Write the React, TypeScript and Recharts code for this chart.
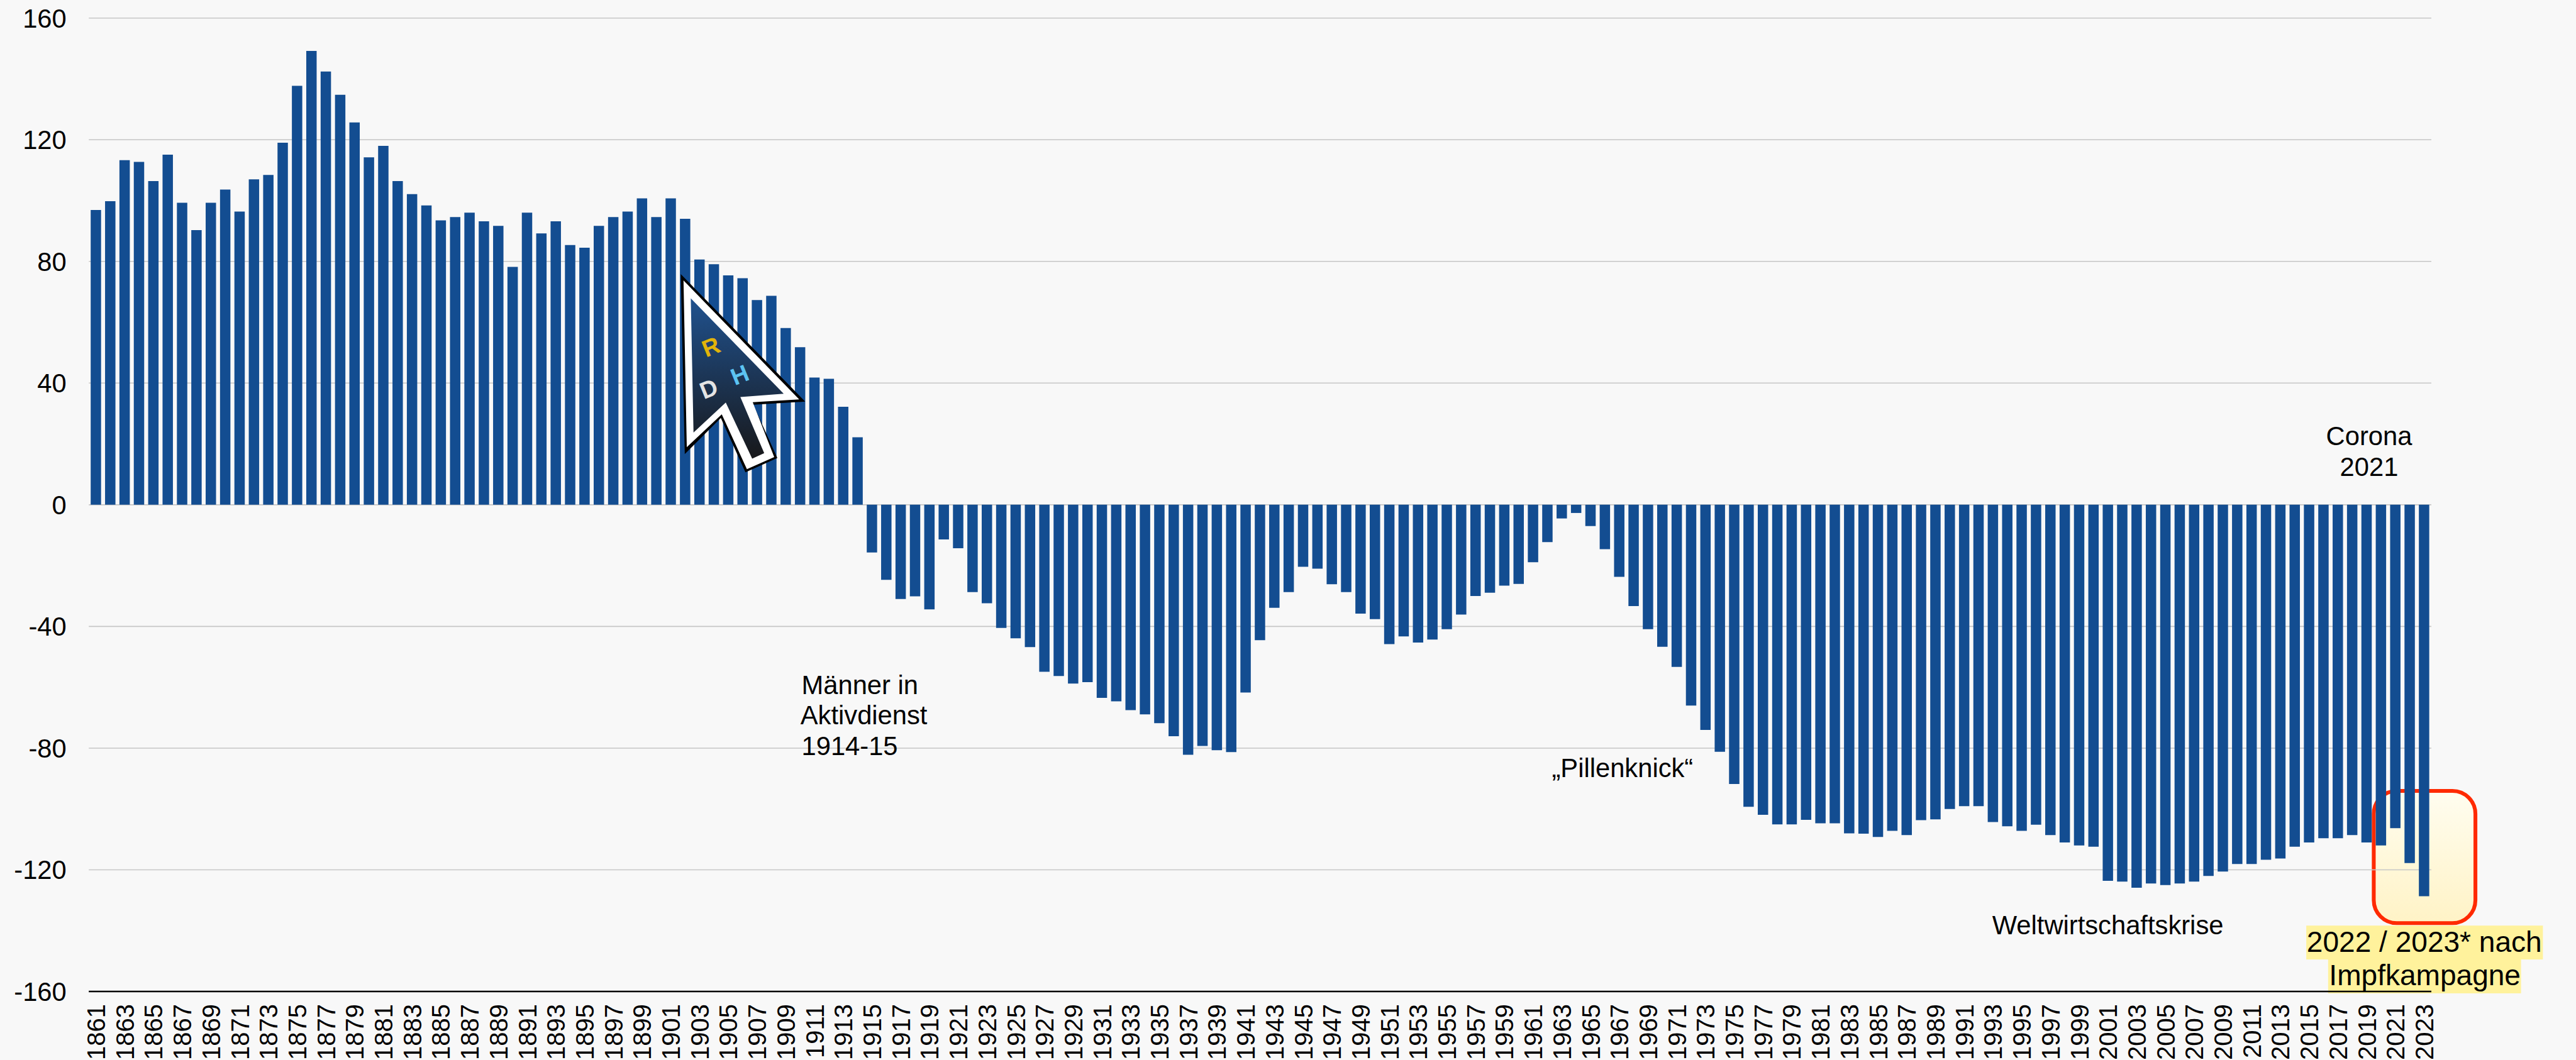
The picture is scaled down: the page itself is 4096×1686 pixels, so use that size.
import React from 'react';
import { BarChart, Bar, XAxis, YAxis, CartesianGrid } from 'recharts';

const WIDTH = 4096;
const HEIGHT = 1686;
const FONT = '"Liberation Sans", Arial, sans-serif';

const years = Array.from({ length: 163 }, (_, i) => String(1861 + i));

const surplus1861to1914 = [
  96.9, 99.8, 113.3, 112.7, 106.4, 115.1, 99.3, 90.3, 99.3, 103.6,
  96.4, 107, 108.4, 119, 137.7, 149.2, 142.4, 134.8, 125.7, 114.2,
  118, 106.4, 102.1, 98.4, 93.5, 94.6, 96, 93.2, 91.7, 78.2,
  96, 89.2, 93.2, 85.4, 84.5, 91.7, 94.6, 96.4, 100.7, 94.6,
  100.7, 94, 80.6, 79.1, 75.4, 74.5, 67.3, 68.7, 58.1, 51.8,
  41.8, 41.4, 32.2, 22.2,
];
const surplus1915to1960 = [
  -15.7, -24.7, -31, -30.1, -34.4, -11.4, -14.3, -28.7, -32.4, -40.5,
  -43.9, -46.8, -54.9, -56.3, -58.8, -58.3, -63.5, -64.6, -67.5, -68.9,
  -71.8, -76.1, -82.2, -79.3, -80.7, -81.3, -61.7, -44.5, -33.9, -28.7,
  -20.4, -21, -26.1, -28.7, -35.8, -37.6, -45.8, -43.3, -45.3, -44.3,
  -40.9, -36.1, -30, -28.9, -26.6, -26,
];
const surplus1961to2023 = [
  -18.9, -12.3, -4.5, -2.7, -7, -14.6, -23.7, -33.3, -40.9, -46.7,
  -53.3, -66, -74, -81.2, -91.8, -99.3, -101.9, -105.1, -105.1, -103.6,
  -104.7, -104.7, -108, -108.1, -109.2, -107.2, -108.6, -103.7, -103.4, -100,
  -99.1, -99.1, -104.3, -105.7, -107.2, -105.2, -108.6, -111, -112, -112.4,
  -123.6, -123.9, -125.9, -124.5, -125, -124.5, -123.9, -122, -120.6, -118.1,
  -118.1, -116.7, -116.3, -112.4, -111, -109.6, -109.6, -108.6, -111, -112,
  -106.3, -117.8, -128.7,
];
const surplus = [...surplus1861to1914, ...surplus1915to1960, ...surplus1961to2023];
const yTicks = [-160, -120, -80, -40, 0, 40, 80, 120, 160];

const data = years.map((year, i) => ({ year, value: surplus[i] }));

// rotated year labels, read from bottom to top
const YearTick = ({ x, y, payload }: any) => (
  <text
    x={x}
    y={y + 18}
    dy="0.36em"
    textAnchor="end"
    transform={`rotate(-90 ${x} ${y + 18})`}
    fontFamily={FONT}
    fontSize={40}
    fill="#000"
  >
    {payload.value}
  </text>
);

// logo cursor, coordinates are in a 3x crop of the reference
const CursorLogo = () => (
  <g transform="translate(1150 450) scale(0.33333)">
    <polygon
      points="285,155 307,1143 505,945 640,1243 815,1165 683,872 968,855"
      fill="#000"
    />
    <polygon
      points="300,190 318,1105 510,925 648,1226 798,1160 680,858 935,843"
      fill="#fff"
    />
    <polygon
      points="340,288 355,1025 532,860 677,1168 743,1138 612,830 850,812"
      fill="url(#cursorFill)"
    />
    {[
      { t: 'R', x: 450, y: 552, c: '#e2b40a' },
      { t: 'D', x: 438, y: 783, c: '#e4e4e4' },
      { t: 'H', x: 608, y: 707, c: '#5cc3f2' },
    ].map((l) => (
      <text
        key={l.t}
        x={l.x}
        y={l.y}
        dy="0.36em"
        textAnchor="middle"
        transform={`rotate(-22 ${l.x} ${l.y})`}
        fontFamily={FONT}
        fontWeight="bold"
        fontSize={130}
        fill={l.c}
      >
        {l.t}
      </text>
    ))}
  </g>
);

const layer: React.CSSProperties = { position: 'absolute', left: 0, top: 0 };
const noteStyle = { fontFamily: FONT, fontSize: 48, fill: '#000' };
const calloutStyle = { fontFamily: FONT, fontSize: 53, fill: '#000' };

export default function App() {
  return (
    <div
      style={{
        ...layer,
        width: WIDTH,
        height: HEIGHT,
        background: '#f8f8f8',
        overflow: 'hidden',
      }}
    >
      {/* highlight behind the bars */}
      <svg style={layer} width={WIDTH} height={HEIGHT} viewBox="0 0 4712 1940">
        <defs>
          <linearGradient id="boxFill" x1="0" y1="0" x2="0" y2="1">
            <stop offset="0%" stopColor="#fffdf0" />
            <stop offset="100%" stopColor="#fff3c6" />
          </linearGradient>
        </defs>
        <rect x={4219} y={1694} width={433} height={62} fill="#fff29c" />
        <rect x={4259} y={1755} width={353} height={63} fill="#fff29c" />
        <rect
          x={4342.5}
          y={1447.5}
          width={186}
          height={242}
          rx={42}
          fill="url(#boxFill)"
          stroke="#ff2a00"
          strokeWidth={7}
        />
      </svg>

      <div style={layer}>
        <BarChart
          width={WIDTH}
          height={HEIGHT}
          data={data}
          margin={{ top: 28.7, right: 230, bottom: 0, left: 0 }}
          barSize={16.5}
        >
          <CartesianGrid
            horizontal
            vertical={false}
            stroke="#c6c6c6"
            strokeWidth={1.6}
          />
          <XAxis
            dataKey="year"
            interval={1}
            height={109}
            tickSize={0}
            tickLine={false}
            tick={<YearTick />}
            axisLine={{ stroke: '#000', strokeWidth: 2.5 }}
          />
          <YAxis
            width={141.2}
            domain={[-160, 160]}
            ticks={yTicks}
            interval={0}
            tickSize={0}
            tickMargin={35.5}
            tickLine={false}
            axisLine={false}
            tick={{ fontFamily: FONT, fontSize: 41.7, fill: '#000' }}
          />
          <Bar dataKey="value" fill="#134d91" isAnimationActive={false} />
        </BarChart>
      </div>

      {/* notes and logo on top */}
      <svg style={layer} width={WIDTH} height={HEIGHT} viewBox="0 0 4712 1940">
        <defs>
          <linearGradient
            id="cursorFill"
            gradientUnits="userSpaceOnUse"
            x1="0"
            y1="288"
            x2="0"
            y2="1168"
          >
            <stop offset="0%" stopColor="#20528f" />
            <stop offset="100%" stopColor="#18181a" />
          </linearGradient>
        </defs>
        <CursorLogo />
        <text x={1466} y={1270} {...noteStyle}>Männer in</text>
        <text x={1464} y={1326} {...noteStyle}>Aktivdienst</text>
        <text x={1466} y={1382} {...noteStyle}>1914-15</text>
        <text x={2968} y={1422} textAnchor="middle" {...noteStyle}>„Pillenknick“</text>
        <text x={3856} y={1710} textAnchor="middle" {...noteStyle}>Weltwirtschaftskrise</text>
        <text x={4334} y={815} textAnchor="middle" {...noteStyle}>Corona</text>
        <text x={4334} y={871} textAnchor="middle" {...noteStyle}>2021</text>
        <text x={4435} y={1742} textAnchor="middle" {...calloutStyle}>2022 / 2023* nach</text>
        <text x={4436} y={1803} textAnchor="middle" {...calloutStyle}>Impfkampagne</text>
      </svg>
    </div>
  );
}
